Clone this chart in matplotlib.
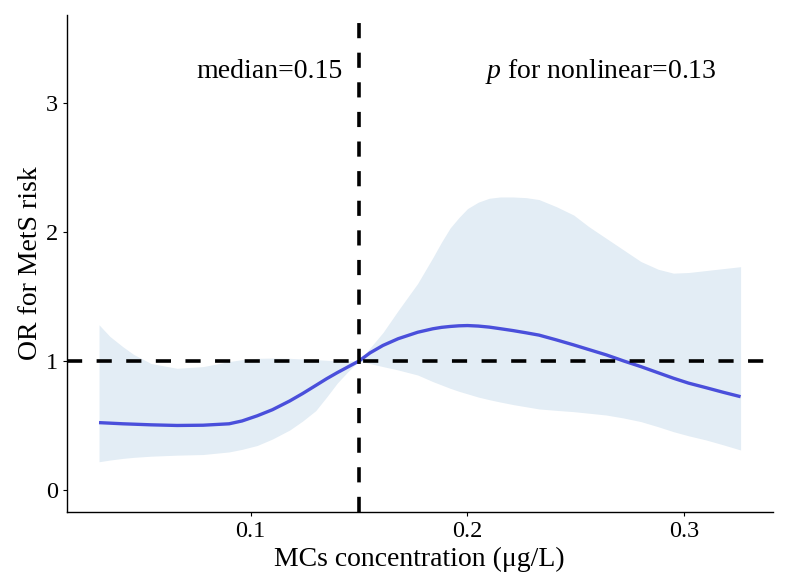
import matplotlib
matplotlib.use("Agg")
import matplotlib.pyplot as plt

plt.rcParams['font.family'] = ['Liberation Serif', 'DejaVu Serif']
plt.rcParams['mathtext.fontset'] = 'custom'
plt.rcParams['mathtext.it'] = 'Liberation Serif:italic'
plt.rcParams['mathtext.rm'] = 'Liberation Serif'

# concentration grid (µg/L)
conc = [0.030, 0.035, 0.041, 0.046, 0.054, 0.066, 0.078, 0.090, 0.096, 0.103,
        0.110, 0.118, 0.124, 0.130, 0.135, 0.140, 0.145, 0.150, 0.155, 0.161,
        0.168, 0.177, 0.184, 0.188, 0.192, 0.196, 0.200, 0.205, 0.210, 0.215,
        0.221, 0.227, 0.233, 0.241, 0.249, 0.256, 0.264, 0.272, 0.280, 0.288,
        0.295, 0.302, 0.310, 0.318, 0.326]
or_est = [0.522, 0.518, 0.513, 0.510, 0.505, 0.500, 0.502, 0.513, 0.535, 0.575,
          0.622, 0.690, 0.748, 0.810, 0.862, 0.910, 0.955, 1.000, 1.062, 1.120,
          1.172, 1.222, 1.249, 1.260, 1.267, 1.272, 1.274, 1.270, 1.262, 1.250,
          1.235, 1.218, 1.200, 1.163, 1.124, 1.088, 1.047, 1.000, 0.956, 0.908,
          0.866, 0.828, 0.793, 0.757, 0.723]
or_upper = [1.28, 1.19, 1.11, 1.05, 0.98, 0.943, 0.956, 0.995, 1.01, 1.02,
            1.022, 1.02, 1.015, 1.01, 1.005, 1.00, 1.00, 1.00, 1.10, 1.22,
            1.39, 1.60, 1.80, 1.92, 2.03, 2.11, 2.18, 2.23, 2.26, 2.27,
            2.27, 2.265, 2.25, 2.195, 2.13, 2.04, 1.95, 1.86, 1.77, 1.71,
            1.68, 1.685, 1.70, 1.715, 1.73]
or_lower = [0.219, 0.232, 0.245, 0.253, 0.262, 0.270, 0.275, 0.295, 0.315, 0.345,
            0.395, 0.465, 0.535, 0.615, 0.72, 0.83, 0.92, 1.00, 0.98, 0.956,
            0.93, 0.891, 0.84, 0.814, 0.788, 0.765, 0.745, 0.72, 0.70, 0.682,
            0.662, 0.645, 0.628, 0.617, 0.607, 0.595, 0.581, 0.558, 0.53, 0.49,
            0.452, 0.42, 0.388, 0.35, 0.31]
x_ticks = [0.1, 0.2, 0.3]
y_ticks = [0, 1, 2, 3]
median_val = 0.15
ref_or = 1.0

fig = plt.figure(figsize=(7.85, 5.85), dpi=100)
ax = fig.add_axes([0.085, 0.1253, 0.8993, 0.8491])

ax.fill_between(conc, or_lower, or_upper, color='#E3EDF5', lw=0, zorder=1)
ax.plot(conc, or_est, color='#4A4FDB', lw=2.4, zorder=3,
        solid_capstyle='butt', solid_joinstyle='round')
dash = (0, (4.2, 4.0))
ax.axhline(ref_or, color='black', lw=2.6, ls=dash, zorder=4)
ax.axvline(median_val, color='black', lw=2.6, ls=dash, zorder=4)

ax.set_xlim(0.0151, 0.3408)
ax.set_ylim(-0.168, 3.68)
ax.set_xticks(x_ticks)
ax.set_xticklabels(['0.1', '0.2', '0.3'])
ax.set_yticks(y_ticks)
ax.set_yticklabels(['0', '1', '2', '3'])

for s in ['top', 'right']:
    ax.spines[s].set_visible(False)
for s in ['left', 'bottom']:
    ax.spines[s].set_linewidth(1.0)
ax.tick_params(length=3, width=0.8, labelsize=17.5, pad=3, colors='black')
ax.tick_params(axis='x', pad=4)

ax.set_xlabel('MCs concentration (μg/L)', fontsize=20, labelpad=3)
ax.set_ylabel('OR for MetS risk', fontsize=20, labelpad=2.5)

ax.text(0.1426, 3.24, 'median=0.15', fontsize=20, ha='right', va='center')
ax.text(0.2615, 3.24, r'$p$ for nonlinear=0.13', fontsize=20, ha='center', va='center')

fig.savefig('out.png', dpi=100)
